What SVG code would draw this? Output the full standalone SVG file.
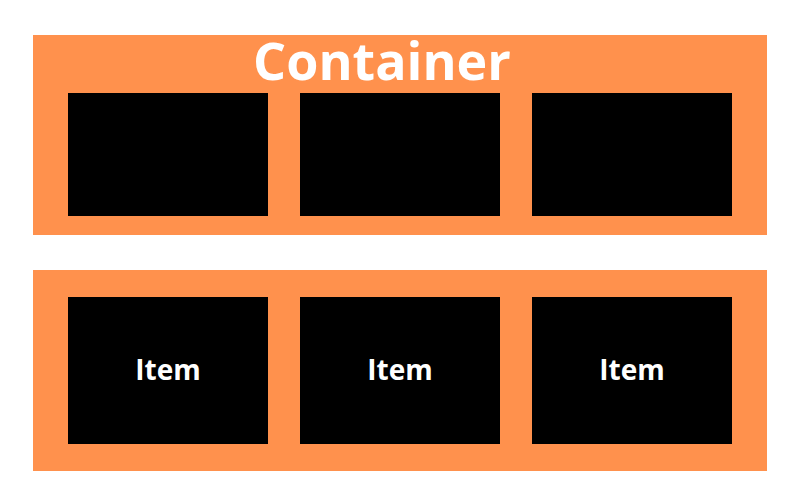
<svg xmlns="http://www.w3.org/2000/svg" width="800" height="500" viewBox="0 0 800 500">
<style>
.cont{fill:#FF914D}
.box{fill:#000}
.t{font-family:"Open Sans","Liberation Sans",sans-serif;font-weight:700;fill:#fff;text-anchor:middle}
</style>
<rect width="800" height="500" fill="#fff"/>
<g id="container-top">
<rect class="cont" x="33" y="35" width="734" height="200"/>
<text class="t" x="382" y="80" font-size="52">Container</text>
</g>
<g id="box-top-1"><rect class="box" x="68" y="93" width="200" height="123"/></g>
<g id="box-top-2"><rect class="box" x="300" y="93" width="200" height="123"/></g>
<g id="box-top-3"><rect class="box" x="532" y="93" width="200" height="123"/></g>
<g id="container-bottom">
<rect class="cont" x="33" y="270" width="734" height="201"/>
</g>
<g id="item-1"><rect class="box" x="68" y="297" width="200" height="147"/><text class="t" x="168" y="380" font-size="28">Item</text></g>
<g id="item-2"><rect class="box" x="300" y="297" width="200" height="147"/><text class="t" x="400" y="380" font-size="28">Item</text></g>
<g id="item-3"><rect class="box" x="532" y="297" width="200" height="147"/><text class="t" x="632" y="380" font-size="28">Item</text></g>
<g id="connectors"></g>
</svg>
